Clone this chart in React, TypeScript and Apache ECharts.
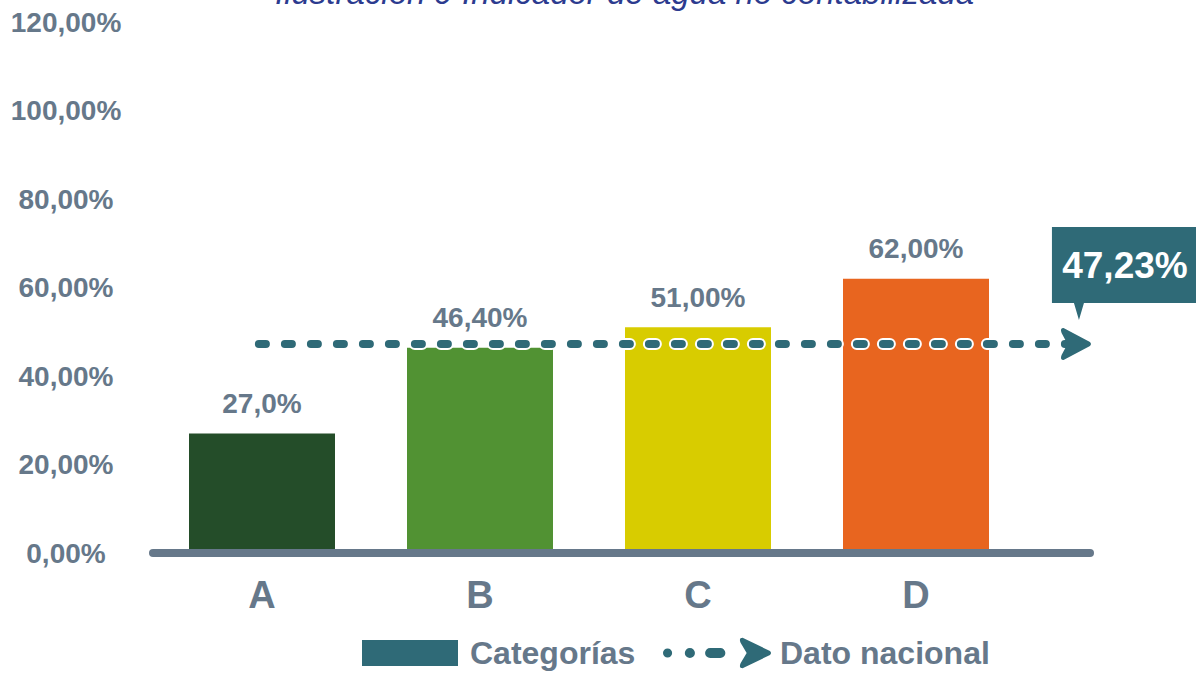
import React, { useEffect, useRef } from 'react';
import * as echarts from 'echarts';

const TITLE = 'Ilustración 9 Indicador de agua no contabilizada';
const CATEGORIES = ['A', 'B', 'C', 'D'];
const VALUES = [27.0, 46.4, 51.0, 62.0];
const VALUE_LABELS = ['27,0%', '46,40%', '51,00%', '62,00%'];
const BAR_COLORS = ['#244d29', '#519233', '#d8cc00', '#e8651f'];
const NATIONAL_VALUE = 47.23;
const NATIONAL_LABEL = '47,23%';
const NATIONAL_X = [0.113, 0.985];
const Y_MIN = 0;
const Y_MAX = 120;
const Y_STEP = 20;
const LEGEND_BARS = 'Categorías';
const LEGEND_LINE = 'Dato nacional';

const GRAY = '#66788a';
const TEAL = '#2f6a77';
const FONT = '"Liberation Sans", Arial, sans-serif';

const ARROW = 'path://M3 0L30 14Q32 16 30 18L3 32Q-1 32 1 27L7 16L1 5Q-1 0 3 0Z';

const LINE_ICON =
  'path://M0.5 16a4.5 4.5 0 1 0 9 0a4.5 4.5 0 1 0 -9 0Z' +
  'M22 16a5 5 0 1 0 10 0a5 5 0 1 0 -10 0Z' +
  'M47 11H57A5 5 0 0 1 57 21H47A5 5 0 0 1 47 11Z' +
  'M79 1L106 14Q108 16 106 18L79 31Q75 31 77 26L83 16L77 6Q75 1 79 1Z';

const CALLOUT = 'path://M0 0H146V76H32L27 93L22 76H0Z';

export default function App() {
  const ref = useRef<HTMLDivElement>(null);

  useEffect(() => {
    if (!ref.current) return;
    const chart = echarts.init(ref.current, undefined, { renderer: 'svg' });
    const fmtY = (v: number) => v.toFixed(2).replace('.', ',') + '%';
    const lineData = NATIONAL_X.map((x, i) =>
      i === NATIONAL_X.length - 1
        ? { value: [x, NATIONAL_VALUE], symbol: ARROW, symbolSize: [30, 32] }
        : { value: [x, NATIONAL_VALUE], symbol: 'none' }
    );
    const option: any = {
      animation: false,
      textStyle: { fontFamily: FONT },
      title: {
        text: TITLE,
        left: 275,
        top: -24,
        padding: 0,
        textStyle: {
          fontFamily: FONT,
          fontSize: 33,
          fontStyle: 'italic',
          fontWeight: 'normal',
          color: '#2c3b8f',
        },
      },
      legend: [
        {
          left: 362,
          top: 637,
          padding: 0,
          selectedMode: false,
          itemWidth: 96,
          itemHeight: 26,
          data: [{ name: LEGEND_BARS, icon: 'rect' }],
          textStyle: { fontFamily: FONT, fontSize: 32, fontWeight: 'bold', color: GRAY, padding: [0, 0, 0, 7] },
        },
        {
          left: 663,
          top: 637,
          padding: 0,
          selectedMode: false,
          itemWidth: 108,
          itemHeight: 32,
          data: [{ name: LEGEND_LINE, icon: LINE_ICON }],
          textStyle: { fontFamily: FONT, fontSize: 32, fontWeight: 'bold', color: GRAY, padding: [0, 0, 0, 4] },
        },
      ],
      grid: [
        { left: 153, right: 171, top: 22, bottom: 122 },
        { left: 153, right: 106, top: 22, bottom: 122 },
      ],
      xAxis: [
        {
          type: 'category',
          gridIndex: 0,
          data: CATEGORIES,
          axisLine: { show: false },
          axisTick: { show: false },
          axisLabel: { fontFamily: FONT, fontSize: 38, fontWeight: 'bold', color: GRAY, margin: 23 },
        },
        {
          type: 'value',
          gridIndex: 1,
          min: 0,
          max: 1,
          z: 5,
          axisLine: { show: true, onZero: false, lineStyle: { color: GRAY, width: 8, cap: 'round' } },
          axisTick: { show: false },
          axisLabel: { show: false },
          splitLine: { show: false },
        },
      ],
      yAxis: [
        {
          type: 'value',
          gridIndex: 0,
          min: Y_MIN,
          max: Y_MAX,
          interval: Y_STEP,
          axisLine: { show: false },
          axisTick: { show: false },
          splitLine: { show: false },
          axisLabel: {
            fontFamily: FONT,
            fontSize: 28,
            fontWeight: 'bold',
            color: GRAY,
            align: 'center',
            margin: 87,
            formatter: fmtY,
          },
        },
        {
          type: 'value',
          gridIndex: 1,
          min: Y_MIN,
          max: Y_MAX,
          interval: Y_STEP,
          show: false,
        },
      ],
      series: [
        {
          name: LEGEND_BARS,
          type: 'bar',
          xAxisIndex: 0,
          yAxisIndex: 0,
          barWidth: 146,
          itemStyle: { color: TEAL },
          z: 2,
          data: VALUES.map((v, i) => ({
            value: v,
            itemStyle: { color: BAR_COLORS[i] },
            label: { formatter: VALUE_LABELS[i] },
          })),
          label: {
            show: true,
            position: 'top',
            distance: 16,
            fontFamily: FONT,
            fontSize: 28,
            fontWeight: 'bold',
            color: GRAY,
          },
        },
        {
          name: 'outline',
          type: 'line',
          xAxisIndex: 1,
          yAxisIndex: 1,
          z: 3,
          silent: true,
          symbol: 'none',
          lineStyle: { color: '#ffffff', width: 12, type: [7, 19], cap: 'round' },
          data: NATIONAL_X.map((x) => [x, NATIONAL_VALUE]),
        },
        {
          name: LEGEND_LINE,
          type: 'line',
          xAxisIndex: 1,
          yAxisIndex: 1,
          z: 4,
          color: TEAL,
          itemStyle: { color: TEAL, borderWidth: 0 },
          lineStyle: { color: TEAL, width: 8, type: [7, 19], cap: 'round' },
          data: lineData,
          markPoint: {
            symbol: CALLOUT,
            symbolSize: [146, 93],
            symbolOffset: [49, -70.5],
            itemStyle: { color: TEAL },
            label: {
              show: true,
              position: 'inside',
              offset: [0, -8.5],
              formatter: NATIONAL_LABEL,
              fontFamily: FONT,
              fontSize: 37,
              fontWeight: 'bold',
              color: '#ffffff',
            },
            data: [{ coord: [NATIONAL_X[NATIONAL_X.length - 1], NATIONAL_VALUE] }],
          },
        },
      ],
    };
    chart.setOption(option);
    return () => chart.dispose();
  }, []);

  return (
    <div
      ref={ref}
      style={{ position: 'fixed', left: 0, top: 0, width: 1196, height: 675, background: '#ffffff' }}
    />
  );
}
